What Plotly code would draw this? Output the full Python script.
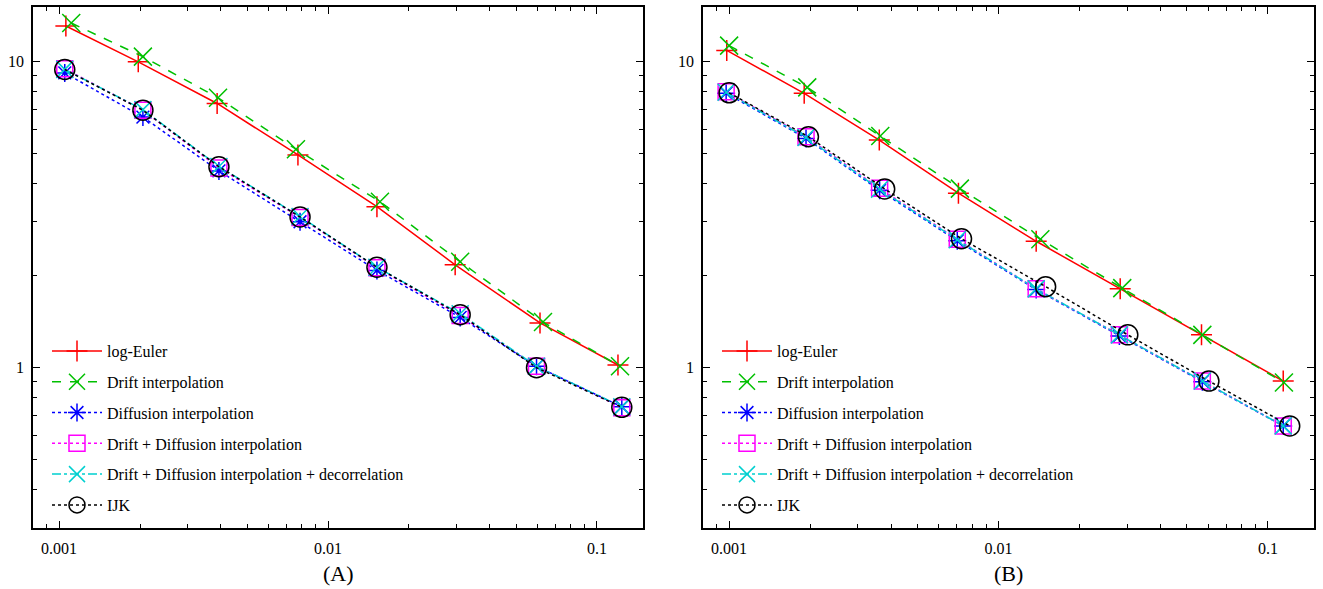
import math
import plotly.graph_objects as go

# ---------------- data ----------------
series_names = [
    "log-Euler",
    "Drift interpolation",
    "Diffusion interpolation",
    "Drift + Diffusion interpolation",
    "Drift + Diffusion interpolation + decorrelation",
    "IJK",
]

# Panel A
hA_euler = [0.00106, 0.00197, 0.00387, 0.00773, 0.0152, 0.0297, 0.0614, 0.1197]
yA_euler = [13.1, 10.0, 7.31, 4.96, 3.36, 2.17, 1.40, 1.02]
hA_drift = [0.00111, 0.00205, 0.00390, 0.00760, 0.0156, 0.0310, 0.0630, 0.1218]
yA_drift = [13.4, 10.4, 7.63, 5.18, 3.49, 2.22, 1.41, 1.01]
hA_other = [0.00105, 0.00205, 0.00393, 0.00787, 0.0152, 0.0310, 0.0596, 0.1237]
yA_diff = [9.2, 6.6, 4.40, 3.00, 2.08, 1.46, 1.01, 0.745]
yA_dd = [9.5, 6.95, 4.50, 3.10, 2.12, 1.48, 1.01, 0.740]
yA_ddd = [9.45, 6.98, 4.55, 3.12, 2.13, 1.50, 1.01, 0.745]
yA_ijk = [9.44, 6.95, 4.54, 3.11, 2.13, 1.49, 1.00, 0.742]

# Panel B
hB_euler = [0.00098, 0.0019, 0.00361, 0.0071, 0.0138, 0.0283, 0.0567, 0.114]
yB_euler = [10.9, 7.89, 5.55, 3.72, 2.59, 1.81, 1.28, 0.904]
hB_drift = [0.0010, 0.00195, 0.00364, 0.00719, 0.0143, 0.0288, 0.0571, 0.1147]
yB_drift = [11.3, 8.25, 5.72, 3.85, 2.63, 1.82, 1.28, 0.894]
hB_other = [0.000975, 0.00193, 0.00362, 0.00703, 0.0138, 0.0281, 0.0571, 0.114]
yB_diff = [7.90, 5.62, 3.80, 2.60, 1.80, 1.27, 0.900, 0.645]
yB_dd = [7.98, 5.69, 3.86, 2.63, 1.81, 1.28, 0.904, 0.645]
yB_ddd = [7.95, 5.66, 3.83, 2.62, 1.81, 1.28, 0.904, 0.645]
hB_ijk = [0.0010, 0.00197, 0.00378, 0.00729, 0.01496, 0.0302, 0.0604, 0.1205]
yB_ijk = [7.92, 5.69, 3.84, 2.64, 1.84, 1.28, 0.904, 0.645]

x_tick_vals = [0.001, 0.01, 0.1]
x_tick_text = ["0.001", "0.01", "0.1"]
y_tick_vals = [1, 10]
y_tick_text = ["1", "10"]
panel_labels = ["(A)", "(B)"]

# ---------------- styles ----------------
FONT = "Liberation Serif"
styles = [
    dict(color="#ff0000", dash="solid", symbol="cross-thin", size=15),
    dict(color="#00c000", dash="dash", symbol="x-thin", size=18),
    dict(color="#0000ff", dash="dot", symbol="asterisk-open", size=15),
    dict(color="#ff00ff", dash="dot", symbol="square-open", size=16),
    dict(color="#00d0d0", dash="dashdot", symbol="x-thin", size=17),
    dict(color="#000000", dash="dot", symbol="circle-open", size=20),
]

panels = [
    dict(
        xs=[hA_euler, hA_drift, hA_other, hA_other, hA_other, hA_other],
        ys=[yA_euler, yA_drift, yA_diff, yA_dd, yA_ddd, yA_ijk],
        xaxis="x", yaxis="y", legend="legend",
    ),
    dict(
        xs=[hB_euler, hB_drift, hB_other, hB_other, hB_other, hB_ijk],
        ys=[yB_euler, yB_drift, yB_diff, yB_dd, yB_ddd, yB_ijk],
        xaxis="x2", yaxis="y2", legend="legend2",
    ),
]

fig = go.Figure()
for p in panels:
    for i, name in enumerate(series_names):
        st = styles[i]
        fig.add_trace(go.Scatter(
            x=p["xs"][i], y=p["ys"][i], name=name,
            mode="lines+markers",
            line=dict(color=st["color"], dash=st["dash"], width=1.5),
            marker=dict(symbol=st["symbol"], size=st["size"], color=st["color"],
                        line=dict(color=st["color"], width=1.5)),
            xaxis=p["xaxis"], yaxis=p["yaxis"], legend=p["legend"],
            legendgroup=p["legend"] + str(i),
        ))

W, H = 1323, 589
xdomA = [33 / W, 643 / W]
xdomB = [703 / W, 1314 / W]
ydom = [1 - 528 / H, 1 - 7.3 / H]

minor_x = [m * 10 ** e for e in range(-4, 0) for m in range(2, 10)]
minor_y = [m * 10 ** e for e in range(-1, 2) for m in range(2, 10)]

xr = [math.log10(0.0008), math.log10(0.1483)]
yr = [math.log10(0.299), math.log10(15.08)]

def xax(dom, anchor):
    return dict(
        type="log", domain=dom, anchor=anchor, range=xr,
        tickmode="array", tickvals=x_tick_vals, ticktext=x_tick_text,
        ticks="inside", ticklen=7, tickwidth=1.2, tickcolor="black",
        minor=dict(tickmode="array", tickvals=minor_x, ticks="inside",
                   ticklen=4, tickwidth=1, tickcolor="black", showgrid=False),
        showline=True, linecolor="black", linewidth=1.6, mirror="allticks",
        showgrid=False, zeroline=False, ticklabelstandoff=5,
        tickfont=dict(family=FONT, size=16, color="black"),
    )

def yax(anchor):
    return dict(
        type="log", domain=ydom, anchor=anchor, range=yr,
        tickmode="array", tickvals=y_tick_vals, ticktext=y_tick_text,
        ticks="inside", ticklen=7, tickwidth=1.2, tickcolor="black",
        minor=dict(tickmode="array", tickvals=minor_y, ticks="inside",
                   ticklen=4, tickwidth=1, tickcolor="black", showgrid=False),
        showline=True, linecolor="black", linewidth=1.6, mirror="allticks",
        showgrid=False, zeroline=False, ticklabelstandoff=4,
        tickfont=dict(family=FONT, size=16, color="black"),
    )

def leg(x):
    return dict(
        x=x, y=1 - 334 / H, xanchor="left", yanchor="top",
        bgcolor="rgba(0,0,0,0)", borderwidth=0,
        font=dict(family=FONT, size=16, color="black"),
        itemwidth=50, tracegroupgap=7,
    )

fig.update_layout(
    width=W, height=H,
    margin=dict(l=0, r=0, t=0, b=0),
    paper_bgcolor="white", plot_bgcolor="white",
    font=dict(family=FONT, size=16, color="black"),
    showlegend=True,
    xaxis=xax(xdomA, "y"), yaxis=yax("x"),
    xaxis2=xax(xdomB, "y2"), yaxis2=yax("x2"),
    legend=leg(47 / W), legend2=leg(717 / W),
    annotations=[
        dict(text=panel_labels[0], x=(xdomA[0] + xdomA[1]) / 2, y=0, yshift=1,
             xref="paper", yref="paper", showarrow=False,
             xanchor="center", yanchor="bottom",
             font=dict(family=FONT, size=22, color="black")),
        dict(text=panel_labels[1], x=(xdomB[0] + xdomB[1]) / 2, y=0, yshift=1,
             xref="paper", yref="paper", showarrow=False,
             xanchor="center", yanchor="bottom",
             font=dict(family=FONT, size=22, color="black")),
    ],
)

fig.write_html("out.html")
